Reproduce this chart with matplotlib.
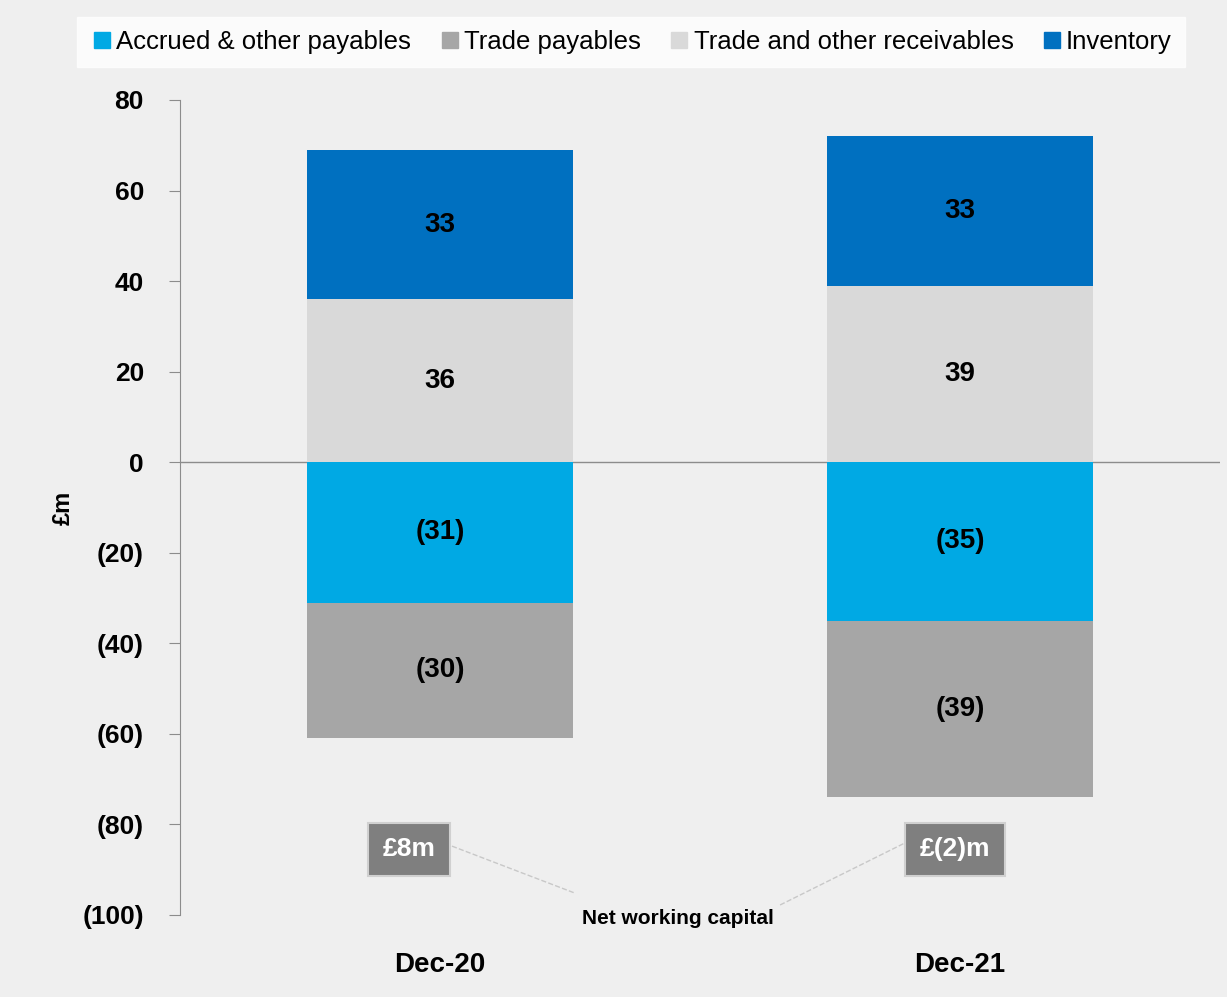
import numpy as np
import matplotlib.pyplot as plt
from matplotlib.lines import Line2D

# data
periods = ['Dec-20', 'Dec-21']
inventory = [33, 33]
receivables = [36, 39]
accrued = [-31, -35]
trade_pay = [-30, -39]
nwc_labels = ['£8m', '£(2)m']

c_inv = '#0070C0'
c_rec = '#D9D9D9'
c_acc = '#00A9E4'
c_tp = '#A6A6A6'

plt.rcParams['font.family'] = ['Liberation Sans', 'DejaVu Sans']

fig = plt.figure(figsize=(12.27, 9.97), dpi=100)
fig.patch.set_facecolor('#efefef')
ax = fig.add_axes([0.1467, 0.0823, 0.8476, 0.8174])
ax.set_facecolor('none')

x = np.arange(len(periods))
w = 0.51
ax.bar(x, receivables, w, color=c_rec, zorder=2)
ax.bar(x, inventory, w, bottom=receivables, color=c_inv, zorder=2)
ax.bar(x, accrued, w, color=c_acc, zorder=2)
ax.bar(x, trade_pay, w, bottom=accrued, color=c_tp, zorder=2)

def fmt(v):
    return str(v) if v >= 0 else '(%d)' % -v

for i in range(len(x)):
    ax.text(x[i], receivables[i] / 2, fmt(receivables[i]), ha='center', va='center',
            fontsize=20, fontweight='bold', zorder=3)
    ax.text(x[i], receivables[i] + inventory[i] / 2, fmt(inventory[i]), ha='center', va='center',
            fontsize=20, fontweight='bold', zorder=3)
    ax.text(x[i], accrued[i] / 2, fmt(accrued[i]), ha='center', va='center',
            fontsize=20, fontweight='bold', zorder=3)
    ax.text(x[i], accrued[i] + trade_pay[i] / 2, fmt(trade_pay[i]), ha='center', va='center',
            fontsize=20, fontweight='bold', zorder=3)

ax.axhline(0, color='#8c8c8c', lw=1, zorder=1)

ax.set_xlim(-0.5, 1.5)
ax.set_ylim(-100, 80)
ax.set_yticks(np.arange(-100, 81, 20))
ax.set_yticklabels([fmt(v) for v in range(-100, 81, 20)], fontsize=19, fontweight='bold')
ax.set_xticks(x)
ax.set_xticklabels(periods, fontsize=20, fontweight='bold')
ax.tick_params(axis='x', length=0, pad=27)
ax.tick_params(axis='y', length=8, color='#8c8c8c', pad=18)
for s in ['top', 'right', 'bottom']:
    ax.spines[s].set_visible(False)
ax.spines['left'].set_color('#8c8c8c')
ax.set_ylabel('£m', fontsize=17, fontweight='bold')
ax.yaxis.set_label_coords(-0.101, 0.5)

# net working capital boxes
box_dx = [-0.06, -0.01]
for i in range(len(x)):
    ax.text(x[i] + box_dx[i], -85.5, nwc_labels[i], ha='center', va='center', color='white',
            fontsize=19, fontweight='bold', zorder=4,
            bbox=dict(boxstyle='square,pad=0.55', fc='#7f7f7f', ec='#d0d0d0', lw=1.5))
ax.text(0.458, -100.7, 'Net working capital', ha='center', va='center',
        fontsize=15, fontweight='bold', clip_on=False)
ax.plot([0.023, 0.26], [-84.8, -95.2], ls='--', color='#c8c8c8', lw=1, clip_on=False)
ax.plot([0.654, 0.894], [-97.8, -84.1], ls='--', color='#c8c8c8', lw=1, clip_on=False)

handles = [Line2D([], [], marker='s', ls='', color=c, markersize=12)
           for c in [c_acc, c_tp, c_rec, c_inv]]
names = ['Accrued & other payables', 'Trade payables', 'Trade and other receivables', 'Inventory']
leg = fig.legend(handles, names, loc='center', bbox_to_anchor=(0.514, 0.958), ncol=4,
                 fontsize=18.5, frameon=True, fancybox=False, handletextpad=0.05,
                 columnspacing=1.0, borderpad=0.5, handlelength=1.0)
leg.get_frame().set_facecolor('white')
leg.get_frame().set_edgecolor('white')

fig.savefig('out.png', dpi=100, facecolor=fig.get_facecolor())
